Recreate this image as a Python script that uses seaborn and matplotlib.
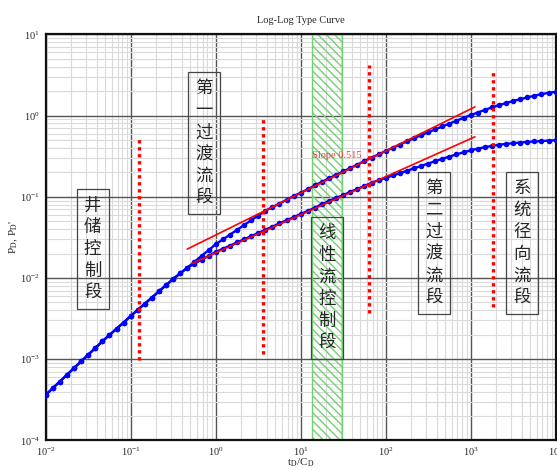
import matplotlib
matplotlib.use("Agg")
import matplotlib.pyplot as plt
import matplotlib.ticker as mticker
import seaborn as sns
import pandas as pd

# 无因次时间 tD/CD（每个数量级 12 个点）
td = [0.01, 0.01212, 0.01468, 0.01778, 0.02154, 0.0261, 0.03162, 0.03831, 0.04642, 0.05623, 0.06813, 0.08254,
      0.1, 0.1212, 0.1468, 0.1778, 0.2154, 0.261, 0.3162, 0.3831, 0.4642, 0.5623, 0.6813, 0.8254,
      1.0, 1.212, 1.468, 1.778, 2.154, 2.61, 3.162, 3.831, 4.642, 5.623, 6.813, 8.254,
      10.0, 12.12, 14.68, 17.78, 21.54, 26.1, 31.62, 38.31, 46.42, 56.23, 68.13, 82.54,
      100.0, 121.2, 146.8, 177.8, 215.4, 261.0, 316.2, 383.1, 464.2, 562.3, 681.3, 825.4,
      1000.0, 1212.0, 1468.0, 1778.0, 2154.0, 2610.0, 3162.0, 3831.0, 4642.0, 5623.0, 6813.0, 8254.0,
      10000.0]

# 压力 PD
pd_vals = [3.63e-4, 4.39e-4, 5.31e-4, 6.41e-4, 7.76e-4, 9.38e-4, 1.135e-3, 1.37e-3, 1.66e-3, 1.98e-3, 2.37e-3, 2.83e-3,
           3.39e-3, 4.06e-3, 4.83e-3, 5.75e-3, 6.86e-3, 8.17e-3, 9.73e-3, 1.14e-2, 1.34e-2, 1.58e-2, 1.87e-2, 2.20e-2,
           2.60e-2, 2.98e-2, 3.41e-2, 3.91e-2, 4.48e-2, 5.13e-2, 5.87e-2, 6.73e-2, 7.45e-2, 8.26e-2, 9.16e-2, 0.102,
           0.112, 0.124, 0.138, 0.153, 0.169, 0.186, 0.205, 0.226, 0.249, 0.275, 0.304, 0.333,
           0.366, 0.401, 0.440, 0.482, 0.527, 0.573, 0.622, 0.676, 0.735, 0.798, 0.865, 0.938,
           1.014, 1.091, 1.175, 1.265, 1.343, 1.429, 1.514, 1.592, 1.675, 1.758, 1.841, 1.905,
           1.963]

# 压力导数 PD'
dpd_vals = [3.63e-4, 4.39e-4, 5.31e-4, 6.41e-4, 7.76e-4, 9.38e-4, 1.135e-3, 1.37e-3, 1.66e-3, 1.98e-3, 2.37e-3, 2.83e-3,
            3.39e-3, 4.06e-3, 4.83e-3, 5.75e-3, 6.86e-3, 8.17e-3, 9.73e-3, 1.14e-2, 1.34e-2, 1.50e-2, 1.68e-2, 1.87e-2,
            2.09e-2, 2.29e-2, 2.50e-2, 2.74e-2, 2.99e-2, 3.27e-2, 3.58e-2, 3.92e-2, 4.29e-2, 4.69e-2, 5.13e-2, 5.61e-2,
            6.14e-2, 6.71e-2, 7.35e-2, 8.09e-2, 8.83e-2, 9.64e-2, 0.105, 0.115, 0.125, 0.136, 0.149, 0.160,
            0.171, 0.183, 0.195, 0.209, 0.224, 0.240, 0.257, 0.275, 0.294, 0.313, 0.333, 0.353,
            0.373, 0.392, 0.408, 0.424, 0.437, 0.448, 0.457, 0.466, 0.473, 0.480, 0.486, 0.492,
            0.498]

# 斜率线（两端点）
slope_upper_x = [0.463, 1122.0]
slope_upper_y = [0.0227, 1.28]
slope_lower_x = [0.525, 1122.0]
slope_lower_y = [0.0151, 0.548]

# 流动段分界（红色点线）
bound_x = [0.126, 3.63, 63.7, 1815.0]
bound_lo = [9.7e-4, 1.16e-3, 3.7e-3, 4.4e-3]
bound_hi = [0.56, 0.92, 4.19, 3.57]

# 线性流区间（绿色阴影）
linear_band = [13.7, 30.8]

stage_labels = ["井储控制段", "第一过渡流段", "线性流控制段", "第二过渡流段", "系统径向流段"]
stage_pos = [(0.092, 0.471), (0.310, 0.732), (0.552, 0.375), (0.761, 0.487), (0.934, 0.487)]

sns.set_style("white")
plt.rcParams["font.family"] = ["Liberation Serif", "DejaVu Serif"]
plt.rcParams["mathtext.fontset"] = "stix"

fig = plt.figure(figsize=(5.57, 4.7), dpi=100)
ax = fig.add_axes([0.082, 0.063, 0.9156, 0.8638])
ax.set_xscale("log")
ax.set_yscale("log")
ax.set_xlim(1e-2, 1e4)
ax.set_ylim(1e-4, 1e1)

# 网格
ax.xaxis.set_major_locator(mticker.LogLocator(base=10, numticks=20))
ax.yaxis.set_major_locator(mticker.LogLocator(base=10, numticks=20))
ax.xaxis.set_minor_locator(mticker.LogLocator(base=10, subs=range(2, 10), numticks=100))
ax.yaxis.set_minor_locator(mticker.LogLocator(base=10, subs=range(2, 10), numticks=100))
ax.yaxis.set_minor_formatter(mticker.NullFormatter())
ax.xaxis.set_minor_formatter(mticker.NullFormatter())
ax.grid(which="major", color="#555555", lw=1.0, zorder=0)
ax.grid(which="minor", color="#dadada", lw=0.8, zorder=0)
ax.set_axisbelow(True)

ax.axvspan(linear_band[0], linear_band[1], facecolor="none", edgecolor="#74d074",
           hatch="\\\\\\\\", lw=1.0, zorder=1)

df = pd.DataFrame({"td": td, "pd": pd_vals, "dpd": dpd_vals})
sns.lineplot(data=df, x="td", y="pd", ax=ax, color="#0000ff", lw=1.7, marker="o",
             markersize=4.0, markeredgewidth=0, zorder=3)
sns.lineplot(data=df, x="td", y="dpd", ax=ax, color="#0000ff", lw=1.7, marker="o",
             markersize=4.0, markeredgewidth=0, zorder=3)

ax.plot(slope_upper_x, slope_upper_y, color="#ff0000", lw=1.2, zorder=4)
ax.plot(slope_lower_x, slope_lower_y, color="#ff0000", lw=1.2, zorder=4)

for bx, lo, hi in zip(bound_x, bound_lo, bound_hi):
    ax.plot([bx, bx], [lo, hi], color="#ff0000", lw=2.4, linestyle=(0, (1, 1.1)), zorder=5)

ax.text(26.5, 0.325, "Slope 0.515", color="#ff3333", fontsize=7.5, ha="center", va="center", zorder=6)

for lab, (px, py) in zip(stage_labels, stage_pos):
    ax.text(px, py, "\n".join(lab), transform=ax.transAxes, ha="center", va="center",
            fontsize=12.5, linespacing=1.28, family=["Noto Sans CJK SC", "DejaVu Sans"], zorder=6,
            bbox=dict(boxstyle="square,pad=0.42", facecolor="none", edgecolor="#444444", lw=0.9))

for s in ax.spines.values():
    s.set_color("#111111")
    s.set_linewidth(1.6)

ax.tick_params(which="both", length=0, labelsize=7.5, pad=4)
ax.set_title("Log-Log Type Curve", fontsize=7.5, pad=8)
ax.set_xlabel(r"t$_\mathrm{D}$/C$_\mathrm{D}$", fontsize=8, labelpad=-1)
ax.set_ylabel(r"P$_\mathrm{D}$, P$_\mathrm{D}$'", fontsize=8, labelpad=0)

fig.savefig("out.png", dpi=100)
